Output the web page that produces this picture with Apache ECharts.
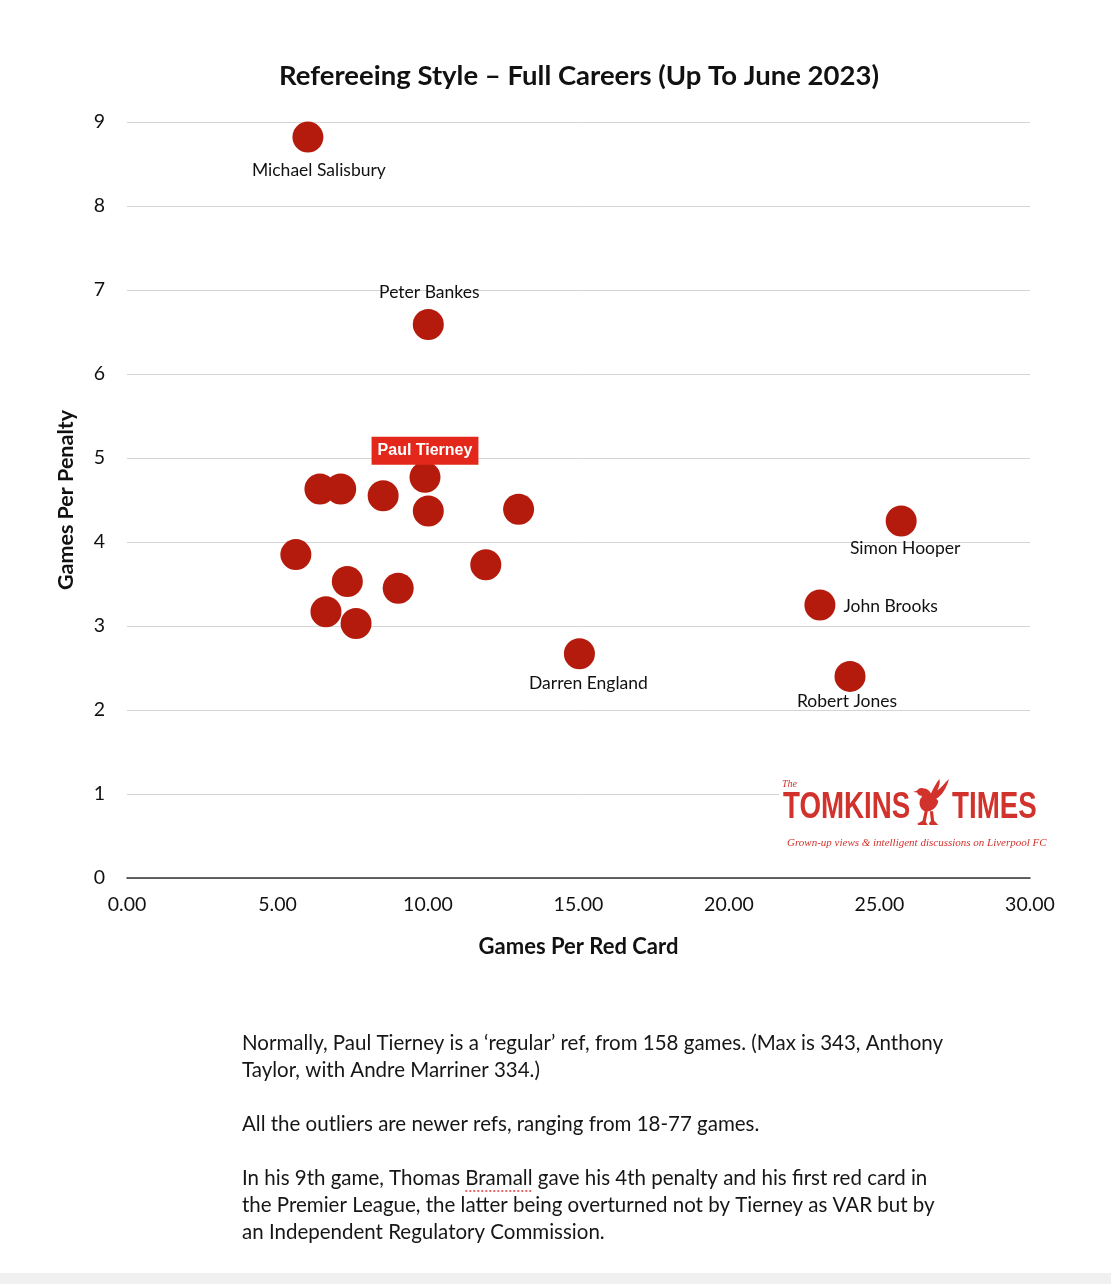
<!DOCTYPE html>
<html><head><meta charset="utf-8">
<script src="https://cdn.jsdelivr.net/npm/echarts@6/dist/echarts.min.js"></script>
<style>html,body{margin:0;padding:0;background:#fff}#c{width:1111px;height:1284px}</style>
</head><body><div id="c"></div>
<script>
// ---- data ----
const referees = ['Michael Salisbury','Peter Bankes','Paul Tierney','','','','','','','','','','','','Darren England','Simon Hooper','John Brooks','Robert Jones'];
const gamesPerRedCard = [6.01,10.01,9.90,6.41,7.10,8.51,10.01,13.01,5.61,11.92,7.32,9.01,6.61,7.61,15.03,25.72,23.02,24.02];
const gamesPerPenalty = [8.82,6.59,4.77,4.63,4.63,4.55,4.37,4.39,3.85,3.73,3.53,3.45,3.17,3.03,2.67,4.25,3.25,2.40];
const xTickValues = [0,5,10,15,20,25,30];
const yTickValues = [0,1,2,3,4,5,6,7,8,9];
const chartTitle = 'Refereeing Style \u2013 Full Careers (Up To June 2023)';
const xAxisTitle = 'Games Per Red Card';
const yAxisTitle = 'Games Per Penalty';
const noteLines = [
  'Normally, Paul Tierney is a \u2018regular\u2019 ref, from 158 games. (Max is 343, Anthony',
  'Taylor, with Andre Marriner 334.)',
  'All the outliers are newer refs, ranging from 18-77 games.',
  'In his 9th game, Thomas Bramall gave his 4th penalty and his first red card in',
  'the Premier League, the latter being overturned not by Tierney as VAR but by',
  'an Independent Regulatory Commission.'
];

// ---- styling ----
const FONT = 'Lato, "Noto Sans", sans-serif';
const RED_LOGO = '#d2322c';
const labelStyles = {
  'Michael Salisbury': {position:'bottom', distance:9, offset:[11,0]},
  'Peter Bankes': {position:'top', distance:8, offset:[1,0]},
  'Paul Tierney': {position:'top', distance:-3, offset:[0,0], backgroundColor:'#e3281b', color:'#fff',
                   fontWeight:'bold', fontFamily:'"Liberation Sans", Arial, sans-serif', fontSize:16, padding:[6,6,6,6]},
  'Darren England': {position:'bottom', distance:5, offset:[9,0]},
  'Simon Hooper': {position:'bottom', distance:3, offset:[4,0]},
  'John Brooks': {position:'right', distance:8, offset:[0,1]},
  'Robert Jones': {position:'bottom', distance:0, offset:[-3,0]}
};

const points = referees.map((name, i) => {
  const item = {name: name, value: [gamesPerRedCard[i], gamesPerPenalty[i]]};
  if (name && labelStyles[name]) {
    item.label = Object.assign({show:true, formatter:'{b}', color:'#111', fontSize:17.5, fontFamily:FONT}, labelStyles[name]);
  } else {
    item.label = {show:false};
  }
  return item;
});

const birdSvg = '<svg xmlns="http://www.w3.org/2000/svg" width="36" height="46" viewBox="0 0 36 46">' +
  '<path fill="' + RED_LOGO + '" d="M10,9 C7,8 5,9 4,11 L0,12.5 L4,13 C4,15 6,16 8,16 C9,17 8,18 7,19 C5,24 7,29 11,31 L13,31 C18,31 23,27 24,21 L22,19 C27,16 32,9 34,0 C30,4 27,8 23,11 C25,7 26,3 25,0 C22,4 19,9 17,14 C16,11 13,9 10,9 Z' +
  ' M11,31 L9,40 L4,43 L5,44 L14,44 L12,41 L14,31 Z M16,31 L17,40 L15,43 L16,44 L24,44 L20,40 L19,31 Z"/></svg>';
const birdUrl = 'data:image/svg+xml;charset=utf-8,' + encodeURIComponent(birdSvg);

// measure the position of "Bramall" for its spell-check underline
const NOTE_FONT_SIZE = 20.5;
const mctx = document.createElement('canvas').getContext('2d');
mctx.font = NOTE_FONT_SIZE + 'px ' + FONT;
const bramStart = 242 + mctx.measureText('In his 9th game, Thomas ').width;
const bramEnd = bramStart + mctx.measureText('Bramall').width;

const chart = echarts.init(document.getElementById('c'), null, {renderer:'canvas'});

const noteY = [1043,1070,1124,1178,1205,1232];
const txt = (y, s) => ({type:'text', x:242, y:y, style:{text:s, fontSize:NOTE_FONT_SIZE, fontFamily:FONT, fill:'#161616', verticalAlign:'middle'}});

chart.setOption({
  backgroundColor:'#fff',
  animation:false,
  grid:{left:127, right:81, top:122, bottom:406},
  xAxis:{
    type:'value', min:xTickValues[0], max:xTickValues[xTickValues.length-1], interval:5,
    name:xAxisTitle, nameLocation:'middle', nameGap:58,
    nameTextStyle:{fontSize:22, fontWeight:'bold', fontFamily:FONT, color:'#111'},
    axisLine:{show:true, onZero:false, lineStyle:{color:'#333', width:1.6}},
    axisTick:{show:false}, splitLine:{show:false},
    axisLabel:{margin:17, fontSize:19.5, fontFamily:FONT, color:'#111', formatter:v=>v.toFixed(2)}
  },
  yAxis:{
    type:'value', min:yTickValues[0], max:yTickValues[yTickValues.length-1], interval:1,
    name:yAxisTitle, nameLocation:'middle', nameGap:50,
    nameTextStyle:{fontSize:21.5, fontWeight:'bold', fontFamily:FONT, color:'#111'},
    axisLine:{show:false}, axisTick:{show:false},
    splitLine:{show:true, lineStyle:{color:'#d4d4d4', width:1}},
    axisLabel:{margin:22, fontSize:19.5, fontFamily:FONT, color:'#111'}
  },
  series:[{
    type:'scatter', symbol:'circle', symbolSize:31,
    itemStyle:{color:'#b41b0c', opacity:1},
    data:points, z:3
  }],
  graphic:[
    {type:'text', x:579, y:76, style:{text:chartTitle, fontSize:27.5, fontWeight:'bold', fontFamily:FONT, fill:'#111', align:'center', verticalAlign:'middle'}},
    {type:'group', z:10, children:[
      {type:'rect', z:10, shape:{x:779, y:774, width:282, height:80}, style:{fill:'#fff'}},
      {type:'text', z:11, x:782, y:784, style:{text:'The', fontSize:10, fontStyle:'italic', fontFamily:'"Liberation Serif", serif', fill:RED_LOGO, verticalAlign:'middle'}},
      {type:'text', z:11, x:783, y:808, scaleX:0.77, style:{text:'TOMKINS', fontSize:36, fontWeight:'bold', fontFamily:'"Liberation Sans", Arial, sans-serif', fill:RED_LOGO, verticalAlign:'middle'}},
      {type:'text', z:11, x:952, y:808, scaleX:0.77, style:{text:'TIMES', fontSize:36, fontWeight:'bold', fontFamily:'"Liberation Sans", Arial, sans-serif', fill:RED_LOGO, verticalAlign:'middle'}},
      {type:'image', z:11, x:913, y:779, style:{image:birdUrl, width:38, height:48}},
      {type:'text', z:11, x:787, y:843, style:{text:'Grown-up views & intelligent discussions on Liverpool FC', fontSize:11, fontStyle:'italic', fontFamily:'"Liberation Serif", serif', fill:RED_LOGO, verticalAlign:'middle'}}
    ]},
    ...noteLines.map((s,i)=>txt(noteY[i], s)),
    {type:'line', shape:{x1:bramStart, y1:1191, x2:bramEnd, y2:1191}, style:{stroke:'#e03a3a', lineWidth:1.5, lineDash:[2,2]}},
    {type:'rect', shape:{x:0, y:1273, width:1111, height:11}, style:{fill:'#f0f0f0'}}
  ]
});
</script></body></html>
